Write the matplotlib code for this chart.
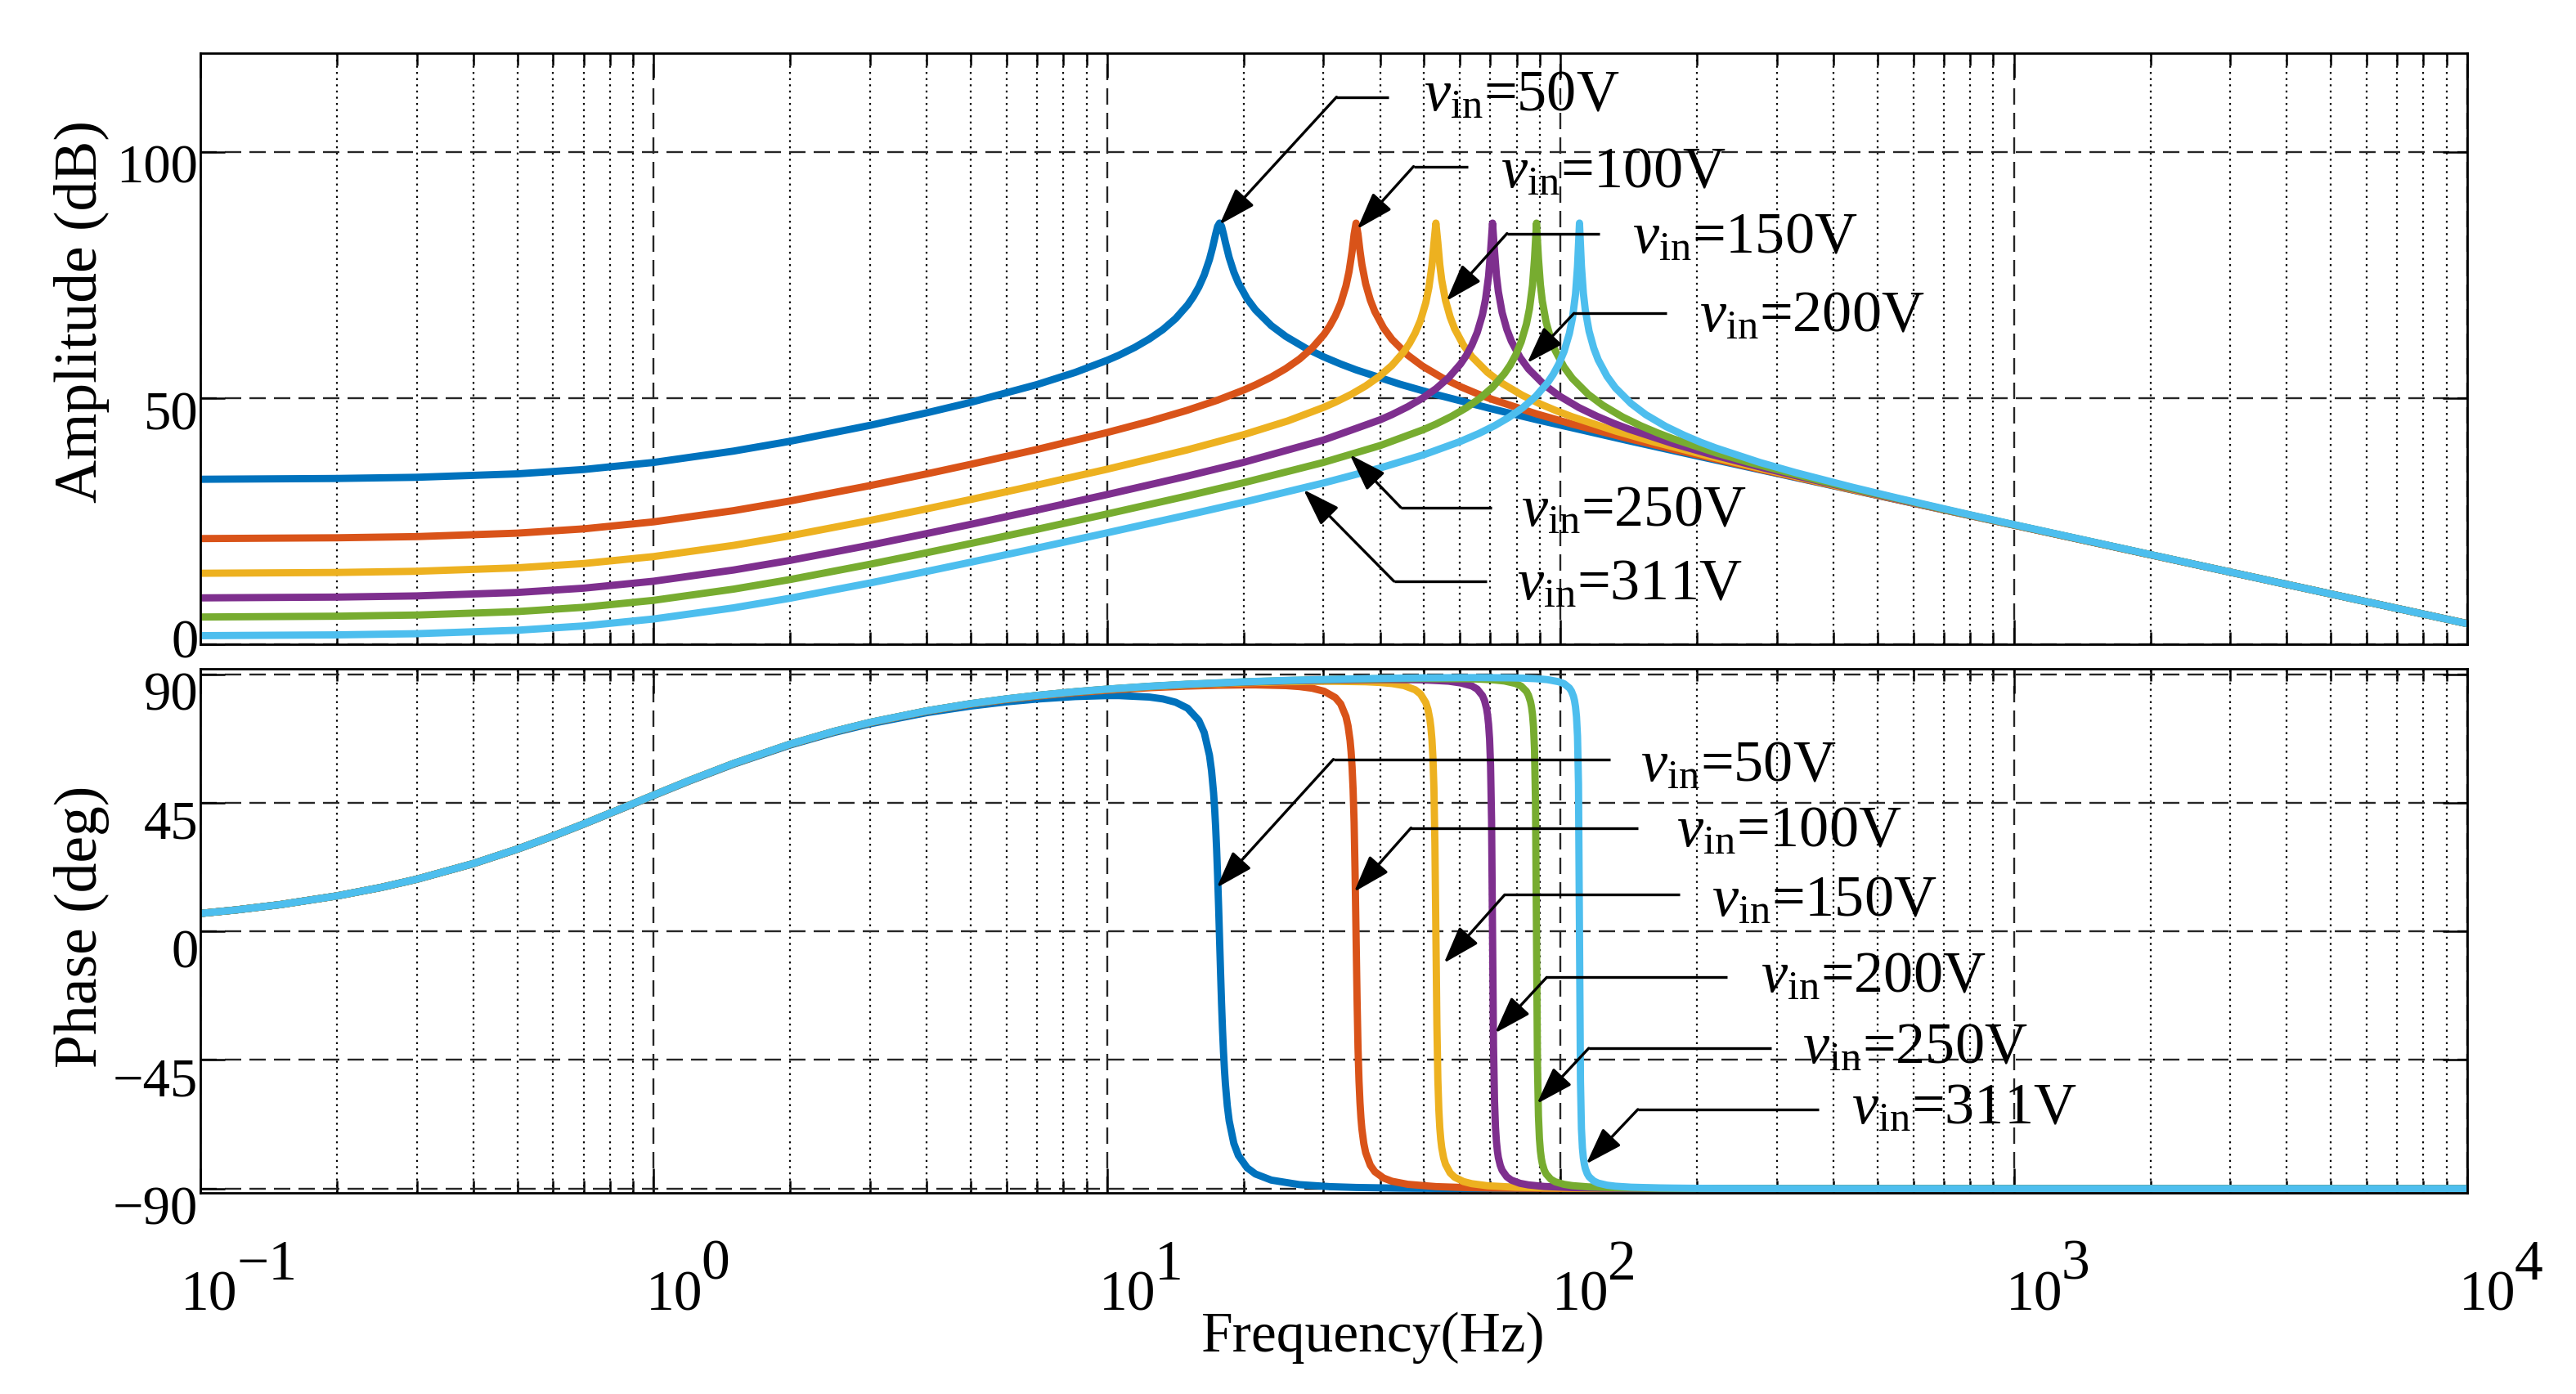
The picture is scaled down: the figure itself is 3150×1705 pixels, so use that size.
"""Bode plot of the converter model for several input voltages (amplitude + phase)."""

import matplotlib

matplotlib.use("Agg")

import matplotlib.pyplot as plt  # noqa: E402
from matplotlib.ticker import FixedLocator, LogLocator, NullFormatter  # noqa: E402
from matplotlib.transforms import ScaledTranslation  # noqa: E402

plt.rcParams.update(
    {
        "font.family": ["Liberation Serif", "DejaVu Serif"],
        "mathtext.fontset": "custom",
        "mathtext.rm": "Liberation Serif",
        "mathtext.it": "Liberation Serif:italic",
        "axes.unicode_minus": True,
        "lines.scale_dashes": False,
    }
)

VIN_LABELS = ["50V", "100V", "150V", "200V", "250V", "311V"]
COLORS = ["#0072BD", "#D95319", "#EDB120", "#7E2F8E", "#77AC30", "#4DBEEE"]

# ---- amplitude (dB) ----
AMP_F_50 = [0.1, 0.2, 0.3, 0.5, 0.7, 1, 1.5, 2, 3, 4, 5, 7, 8.5, 10, 10.62, 11.505,
            12.39, 13.275, 14.16, 15.045, 15.4875, 15.93, 16.3725, 16.815, 17.0805,
            17.346, 17.523, 17.7, 17.877, 18.054, 18.231, 18.585, 19.0275, 19.47,
            20.355, 21.24, 23.01, 24.78, 27.435, 30.09, 32.745, 35.4, 44.25, 53.1,
            70.8, 88.5, 140, 200, 500, 1000, 3000, 10000]
AMP_DB_50 = [33.50, 33.66, 33.90, 34.60, 35.48, 36.92, 39.22, 41.22, 44.45, 46.99,
             49.11, 52.72, 55.19, 57.65, 58.69, 60.27, 61.99, 63.90, 66.13, 68.87,
             70.55, 72.53, 74.98, 78.14, 80.52, 83.23, 84.82, 85.51, 84.84, 83.29,
             81.56, 78.48, 75.56, 73.35, 70.15, 67.88, 64.70, 62.49, 60.09, 58.31,
             56.89, 55.71, 52.79, 50.71, 47.75, 45.61, 41.41, 38.24, 30.22, 24.19,
             14.65, 4.19]

AMP_F_100 = [0.1, 0.2, 0.3, 0.5, 0.7, 1, 1.5, 2, 3, 4, 5, 7, 10, 12.5, 15, 17.5, 20,
             21.24, 23.01, 24.78, 26.55, 28.32, 30.09, 30.975, 31.86, 32.745, 33.63,
             34.161, 34.69, 35.05, 35.4, 35.75, 36.11, 36.462, 37.17, 38.055, 38.94,
             40.71, 42.48, 46.02, 49.56, 54.87, 60.18, 65.49, 70.8, 88.5, 106.2,
             141.6, 177, 280, 500, 1000, 3000, 10000]
AMP_DB_100 = [21.46, 21.62, 21.86, 22.56, 23.43, 24.86, 27.13, 29.10, 32.22, 34.60,
              36.53, 39.55, 42.99, 45.35, 47.49, 49.54, 51.60, 52.66, 54.24, 55.97,
              57.89, 60.14, 62.91, 64.62, 66.67, 69.24, 72.75, 75.68, 79.75, 83.24,
              85.50, 83.27, 79.87, 77.10, 73.15, 69.88, 67.53, 64.22, 61.90, 58.70,
              56.49, 54.08, 52.29, 50.87, 49.69, 46.77, 44.69, 41.73, 39.59, 35.39,
              30.25, 24.20, 14.65, 4.19]

AMP_F_150 = [0.1, 0.2, 0.3, 0.5, 0.7, 1, 1.5, 2, 3, 4, 5, 7, 10, 15, 20, 25, 30,
             31.86, 34.515, 37.17, 39.825, 42.48, 45.135, 46.4625, 47.79, 49.1175,
             50.45, 51.2415, 52.04, 52.57, 53.1, 53.63, 54.16, 54.693, 55.76, 57.0825,
             58.41, 61.065, 63.72, 69.03, 74.34, 82.305, 90.27, 98.235, 106.2, 132.75,
             159.3, 212.4, 265.5, 420, 1000, 3000, 10000]
AMP_DB_150 = [14.42, 14.58, 14.82, 15.52, 16.39, 17.81, 20.08, 22.04, 25.14, 27.50,
              29.39, 32.32, 35.54, 39.45, 42.55, 45.33, 48.08, 49.14, 50.72, 52.44,
              54.37, 56.62, 59.40, 61.12, 63.18, 65.78, 69.36, 72.42, 76.92, 81.45,
              85.50, 81.51, 77.06, 73.94, 69.79, 66.43, 64.04, 60.73, 58.40, 55.19,
              52.97, 50.56, 48.77, 47.35, 46.17, 43.25, 41.17, 38.21, 36.07, 31.87,
              24.21, 14.65, 4.19]

AMP_F_200 = [0.1, 0.2, 0.3, 0.5, 0.7, 1, 1.5, 2, 3, 4, 5, 7, 10, 15, 20, 30, 40, 42.48,
             46.02, 49.56, 53.1, 56.64, 60.18, 61.95, 63.72, 65.49, 67.26, 68.322,
             69.38, 70.09, 70.8, 71.51, 72.22, 72.924, 74.34, 76.11, 77.88, 81.42,
             84.96, 92.04, 99.12, 109.74, 120.4, 130.98, 141.6, 177, 212.4, 283.2, 354,
             560, 1000, 3000, 10000]
AMP_DB_200 = [9.42, 9.58, 9.82, 10.52, 11.39, 12.81, 15.08, 17.04, 20.13, 22.48,
              24.35, 27.25, 30.40, 34.13, 36.94, 41.46, 45.57, 46.63, 48.22, 49.94,
              51.87, 54.12, 56.91, 58.62, 60.69, 63.30, 66.91, 70.01, 74.69, 79.77,
              85.50, 79.84, 74.84, 71.58, 67.33, 63.95, 61.56, 58.23, 55.90, 52.69,
              50.47, 48.06, 46.27, 44.85, 43.67, 40.75, 38.67, 35.71, 33.57, 29.37,
              24.23, 14.65, 4.19]

AMP_F_250 = [0.1, 0.2, 0.3, 0.5, 0.7, 1, 1.5, 2, 3, 4, 5, 7, 10, 15, 20, 30, 40, 50,
             53.1, 57.525, 61.95, 66.375, 70.8, 75.225, 77.4375, 79.65, 81.8625, 84.08,
             85.4025, 86.73, 87.62, 88.5, 89.39, 90.27, 91.155, 92.93, 95.1375, 97.35,
             101.775, 106.2, 115.05, 123.9, 137.175, 150.5, 163.725, 177, 221.25,
             265.5, 354, 442.5, 700, 1000, 3000, 10000]
AMP_DB_250 = [5.54, 5.70, 5.94, 6.64, 7.51, 8.93, 11.20, 13.15, 16.25, 18.59, 20.46,
              23.34, 26.46, 30.10, 32.80, 36.92, 40.34, 43.63, 44.69, 46.28, 48.00,
              49.93, 52.18, 54.97, 56.68, 58.75, 61.37, 64.98, 68.11, 72.87, 78.27,
              85.50, 78.35, 73.04, 69.70, 65.41, 62.02, 59.63, 56.29, 53.96, 50.75,
              48.53, 46.12, 44.33, 42.91, 41.73, 38.81, 36.73, 33.77, 31.63, 27.43,
              24.26, 14.66, 4.19]

AMP_F_311 = [0.1, 0.2, 0.3, 0.5, 0.7, 1, 1.5, 2, 3, 4, 5, 7, 10, 15, 20, 30, 40, 50,
             60, 66.06, 71.565, 77.07, 82.575, 88.08, 93.585, 96.3375, 99.09, 101.8425,
             104.6, 106.2465, 107.9, 109.0, 110.1, 111.2, 112.3, 113.403, 115.6,
             118.3575, 121.1, 126.615, 132.1, 143.13, 154.1, 170.655, 187.2, 203.685,
             220.2, 275.25, 330.3, 440.4, 550.5, 800, 1000, 3000, 10000]
AMP_DB_311 = [1.75, 1.91, 2.15, 2.85, 3.72, 5.14, 7.40, 9.36, 12.45, 14.79, 16.66,
              19.53, 22.63, 26.22, 28.84, 32.74, 35.79, 38.50, 41.14, 42.79, 44.38,
              46.11, 48.04, 50.29, 53.07, 54.79, 56.86, 59.48, 63.11, 66.25, 71.07,
              76.68, 85.51, 76.75, 71.24, 67.85, 63.54, 60.13, 57.73, 54.40, 52.07,
              48.86, 46.63, 44.22, 42.44, 41.01, 39.84, 36.91, 34.84, 31.88, 29.74,
              26.29, 24.30, 14.66, 4.19]

# ---- phase (deg) ----
PH_F_50 = [0.1, 0.12, 0.15, 0.2, 0.25, 0.3, 0.4, 0.5, 0.6, 0.7, 0.85, 1, 1.2, 1.5, 2,
           2.5, 3, 4, 5, 6, 7, 8.5, 10, 10.62, 12.39, 13.275, 14.16, 15.045, 15.93,
           16.3725, 16.815, 16.992, 17.169, 17.2575, 17.346, 17.4345, 17.523, 17.612,
           17.7, 17.789, 17.877, 17.9655, 18.054, 18.1425, 18.231, 18.408, 18.585,
           19.0275, 19.47, 20.355, 21.24, 23.01, 26.55, 30.975, 35.4, 44.25, 53.1,
           88.5, 177, 1000, 10000]
PH_DEG_50 = [6.25, 7.49, 9.35, 12.39, 15.32, 18.20, 23.67, 28.71, 33.31, 37.46, 42.92,
             47.54, 52.64, 58.51, 65.21, 69.60, 72.64, 76.52, 78.83, 80.31, 81.28,
             82.15, 82.49, 82.49, 81.98, 81.32, 80.16, 78.07, 73.77, 69.52, 61.56,
             56.17, 48.39, 43.16, 36.74, 28.89, 19.50, 8.69, -2.94, -14.53, -25.18,
             -34.40, -42.07, -48.33, -53.44, -61.06, -66.33, -74.18, -78.40, -82.73,
             -84.90, -87.03, -88.62, -89.32, -89.61, -89.86, -89.94, -90.0, -90.0,
             -90.0, -90.0]

PH_F_100 = [0.1, 0.12, 0.15, 0.2, 0.25, 0.3, 0.4, 0.5, 0.6, 0.7, 0.85, 1, 1.2, 1.5, 2,
            2.5, 3, 4, 5, 6, 7, 8.5, 10, 12.5, 15, 17.5, 20, 21.24, 24.78, 26.55, 28.32,
            30.09, 31.86, 32.745, 33.63, 33.984, 34.34, 34.515, 34.69, 34.869, 35.05,
            35.22, 35.4, 35.58, 35.75, 35.931, 36.11, 36.285, 36.46, 36.816, 37.17,
            38.055, 38.94, 40.71, 42.48, 46.02, 53.1, 61.95, 70.8, 106.2, 177, 1000,
            10000]
PH_DEG_100 = [6.27, 7.51, 9.36, 12.40, 15.35, 18.24, 23.71, 28.77, 33.38, 37.54, 43.02,
              47.66, 52.78, 58.69, 65.45, 69.90, 73.01, 77.02, 79.49, 81.14, 82.30,
              83.54, 84.37, 85.28, 85.81, 86.11, 86.23, 86.24, 85.99, 85.65, 85.07,
              84.01, 81.79, 79.56, 75.13, 71.90, 66.74, 62.86, 57.48, 49.70, 38.10,
              20.94, -1.47, -23.78, -40.77, -52.24, -59.91, -65.24, -69.09, -74.21,
              -77.42, -81.84, -84.09, -86.33, -87.44, -88.51, -89.31, -89.66, -89.81,
              -89.97, -90.0, -90.0, -90.0]

PH_F_150 = [0.1, 0.12, 0.15, 0.2, 0.25, 0.3, 0.4, 0.5, 0.6, 0.7, 0.85, 1, 1.2, 1.5, 2,
            2.5, 3, 4, 5, 6, 7, 8.5, 10, 12.5, 15, 20, 25, 30, 31.86, 37.17, 39.825,
            42.48, 45.135, 47.79, 49.1175, 50.45, 50.976, 51.51, 51.7725, 52.04,
            52.3035, 52.57, 52.83, 53.1, 53.37, 53.63, 53.8965, 54.16, 54.4275, 54.69,
            55.224, 55.76, 57.0825, 58.41, 61.065, 63.72, 69.03, 79.65, 92.925, 106.2,
            159.3, 1000, 10000]
PH_DEG_150 = [6.27, 7.51, 9.36, 12.40, 15.36, 18.25, 23.72, 28.78, 33.39, 37.56, 43.04,
              47.68, 52.81, 58.72, 65.49, 69.96, 73.08, 77.11, 79.60, 81.27, 82.46,
              83.74, 84.62, 85.61, 86.25, 86.98, 87.36, 87.49, 87.49, 87.33, 87.10,
              86.71, 86.00, 84.52, 83.01, 80.00, 77.76, 74.10, 71.25, 67.15, 60.81,
              50.13, 30.76, -0.98, -32.60, -51.83, -62.42, -68.74, -72.81, -75.65,
              -79.27, -81.51, -84.52, -86.04, -87.54, -88.29, -89.01, -89.54, -89.77,
              -89.87, -89.98, -90.0, -90.0]

PH_F_200 = [0.1, 0.12, 0.15, 0.2, 0.25, 0.3, 0.4, 0.5, 0.6, 0.7, 0.85, 1, 1.2, 1.5, 2,
            2.5, 3, 4, 5, 6, 7, 8.5, 10, 12.5, 15, 20, 25, 30, 35, 40, 42.48, 49.56,
            53.1, 56.64, 60.18, 63.72, 65.49, 67.26, 67.968, 68.68, 69.03, 69.38,
            69.738, 70.09, 70.45, 70.8, 71.15, 71.51, 71.862, 72.22, 72.57, 72.92,
            73.632, 74.34, 76.11, 77.88, 81.42, 84.96, 92.04, 106.2, 123.9, 141.6,
            212.4, 1000, 10000]
PH_DEG_200 = [6.27, 7.51, 9.36, 12.40, 15.36, 18.25, 23.73, 28.79, 33.40, 37.57, 43.04,
              47.69, 52.82, 58.74, 65.51, 69.98, 73.10, 77.14, 79.64, 81.32, 82.52,
              83.81, 84.70, 85.71, 86.38, 87.18, 87.64, 87.90, 88.06, 88.12, 88.12,
              88.00, 87.77, 87.53, 86.93, 85.88, 84.75, 82.47, 80.77, 77.96, 75.75,
              72.50, 67.34, 58.09, 38.76, -0.74, -40.14, -59.35, -68.54, -73.70,
              -76.91, -79.14, -81.91, -83.60, -85.88, -87.03, -88.16, -88.71, -89.26,
              -89.65, -89.83, -89.91, -89.99, -90.0, -90.0]

PH_F_250 = [0.1, 0.12, 0.15, 0.2, 0.25, 0.3, 0.4, 0.5, 0.6, 0.7, 0.85, 1, 1.2, 1.5, 2,
            2.5, 3, 4, 5, 6, 7, 8.5, 10, 12.5, 15, 20, 25, 30, 35, 40, 45, 50, 53.1,
            61.95, 66.375, 70.8, 75.225, 79.65, 81.8625, 84.08, 84.96, 85.85, 86.2875,
            86.73, 87.1725, 87.62, 88.06, 88.5, 88.94, 89.39, 89.8275, 90.27, 90.7125,
            91.16, 92.04, 92.93, 95.1375, 97.35, 101.775, 106.2, 115.05, 132.8,
            154.875, 177, 265.5, 1000, 10000]
PH_DEG_250 = [6.27, 7.51, 9.36, 12.40, 15.36, 18.25, 23.73, 28.79, 33.40, 37.57, 43.05,
              47.70, 52.83, 58.75, 65.52, 69.98, 73.11, 77.16, 79.66, 81.34, 82.55,
              83.84, 84.74, 85.76, 86.44, 87.26, 87.75, 88.05, 88.25, 88.38, 88.46,
              88.50, 88.44, 88.40, 88.26, 88.02, 87.60, 86.71, 85.80, 83.97, 82.60,
              80.33, 78.54, 75.86, 71.57, 63.59, 45.29, -0.59, -46.33, -64.55, -72.50,
              -76.80, -79.45, -81.26, -83.51, -84.87, -86.71, -87.63, -88.52, -88.97,
              -89.40, -89.72, -89.87, -89.92, -89.99, -90.0, -90.0]

PH_F_311 = [0.1, 0.12, 0.15, 0.2, 0.25, 0.3, 0.4, 0.5, 0.6, 0.7, 0.85, 1, 1.2, 1.5, 2,
            2.5, 3, 4, 5, 6, 7, 8.5, 10, 12.5, 15, 20, 25, 30, 35, 40, 45, 50, 60,
            66.06, 77.07, 82.575, 88.08, 93.585, 99.09, 101.8425, 104.6, 105.696,
            106.8, 107.3475, 107.9, 108.4485, 109.0, 109.55, 110.1, 110.65, 111.2,
            111.7515, 112.3, 112.8525, 113.4, 114.504, 115.6, 118.3575, 121.1,
            126.615, 132.1, 143.13, 165.2, 192.675, 220.2, 330.3, 1000, 10000]
PH_DEG_311 = [6.27, 7.51, 9.36, 12.40, 15.36, 18.25, 23.73, 28.79, 33.40, 37.57, 43.05,
              47.70, 52.83, 58.75, 65.53, 69.99, 73.13, 77.16, 79.68, 81.36, 82.57,
              83.86, 84.76, 85.79, 86.48, 87.31, 87.81, 88.13, 88.35, 88.51, 88.62,
              88.70, 88.78, 88.79, 88.71, 88.60, 88.42, 88.07, 87.35, 86.63, 85.15,
              84.05, 82.20, 80.74, 78.58, 75.03, 68.28, 51.60, -0.49, -52.42, -69.05,
              -75.77, -79.32, -81.48, -82.96, -84.78, -85.88, -87.35, -88.09, -88.81,
              -89.17, -89.52, -89.78, -89.89, -89.94, -89.99, -90.0, -90.0]

AMP_SERIES = [(AMP_F_50, AMP_DB_50), (AMP_F_100, AMP_DB_100), (AMP_F_150, AMP_DB_150),
              (AMP_F_200, AMP_DB_200), (AMP_F_250, AMP_DB_250), (AMP_F_311, AMP_DB_311)]
PH_SERIES = [(PH_F_50, PH_DEG_50), (PH_F_100, PH_DEG_100), (PH_F_150, PH_DEG_150),
             (PH_F_200, PH_DEG_200), (PH_F_250, PH_DEG_250), (PH_F_311, PH_DEG_311)]

AMP_TICKS = [0, 50, 100]
PH_TICKS = [-90, -45, 0, 45, 90]
DECADES = [-1, 0, 1, 2, 3, 4]

# ---- callouts (data coordinates): arrow tip, elbow, end of leader, label anchor ----
AMP_TIPS = [(17.7, 85.2), (35.6, 84.3), (56.0, 69.7), (84.4, 57.1), (34.3, 38.5), (27.1, 31.4)]
AMP_ELBOWS = [(32.06, 111.1), (47.4, 97.0), (76.2, 83.4), (107.1, 67.2), (44.4, 27.8), (42.9, 12.8)]
AMP_LEADER_END = [41.7, 62.4, 122.1, 171.3, 70.6, 68.7]
AMP_LABEL_POS = [(49.9, 108.6), (73.9, 92.9), (143.8, 79.6), (202.2, 63.8), (81.8, 24.3), (80.1, 9.3)]

PH_TIPS = [(17.45, 15.3), (35.05, 13.8), (55.3, -11.1), (71.7, -35.6), (88.7, -60.3), (113.9, -81.4)]
PH_ELBOWS = [(31.55, 60.2), (46.8, 36.2), (75.3, 12.8), (93.2, -16.1), (115.4, -40.9), (148.1, -62.3)]
PH_LEADER_END = [128.9, 147.9, 183.3, 233.5, 291.8, 371.2]
PH_LABEL_POS = [(149.8, 52.9), (180.3, 30.1), (215.0, 5.7), (275.9, -20.9), (341.6, -45.7), (438.5, -66.8)]

DPI = 200
PX = 72 / DPI  # one output pixel in points


def style_axes(ax):
    ax.set_xscale("log")
    ax.set_xlim(0.1, 1e4)
    ax.xaxis.set_major_locator(FixedLocator([10.0**k for k in DECADES]))
    ax.xaxis.set_minor_locator(LogLocator(base=10, subs=range(2, 10), numticks=30))
    ax.xaxis.set_major_formatter(NullFormatter())
    ax.xaxis.set_minor_formatter(NullFormatter())
    ax.tick_params(which="both", direction="in", top=True, right=True, width=0.9,
                   labelsize=24, pad=1)
    ax.tick_params(which="major", length=30 * PX)
    ax.tick_params(which="minor", length=15 * PX)
    # MATLAB-like grid: dashed majors, sparse square dots for the minors
    ax.grid(True, which="major", color="#262626", linewidth=0.85,
            linestyle=(0, (7.2, 3.6)))
    ax.grid(True, which="minor", axis="x", color="black", linewidth=0.8,
            linestyle=(0, (0.83, 1.9)), dash_capstyle="butt")
    for spine in ax.spines.values():
        spine.set_linewidth(1.0)


def shift_ylabels(fig, ax, shifts):
    for label, dy in zip(ax.get_yticklabels(), shifts):
        label.set_transform(label.get_transform()
                            + ScaledTranslation(0, dy / 72, fig.dpi_scale_trans))


def add_callouts(ax, tips, elbows, ends, positions):
    for tip, elbow, end_x, pos, text in zip(tips, elbows, ends, positions, VIN_LABELS):
        ax.plot([elbow[0], end_x], [elbow[1], elbow[1]], color="black", lw=1.2,
                solid_capstyle="butt", zorder=5)
        ax.annotate("", xy=tip, xytext=elbow, zorder=5,
                    arrowprops=dict(arrowstyle="-|>,head_length=1.4,head_width=0.47",
                                    color="black", lw=1.2, shrinkA=0, shrinkB=0,
                                    mutation_scale=10))
        ax.text(pos[0], pos[1], r"$v_{\mathrm{in}}$=" + text, fontsize=26,
                ha="left", va="baseline", zorder=6)


def main():
    fig = plt.figure(figsize=(3150 / DPI, 1706 / DPI), dpi=DPI)
    ax_amp = fig.add_axes([0.0778, 0.5375, 0.8800, 0.4238])
    ax_ph = fig.add_axes([0.0778, 0.1442, 0.8800, 0.3760])

    for (freq, amp), color in zip(AMP_SERIES, COLORS):
        ax_amp.plot(freq, amp, color=color, lw=3.2, solid_joinstyle="round")
    for (freq, phase), color in zip(PH_SERIES, COLORS):
        ax_ph.plot(freq, phase, color=color, lw=3.2, solid_joinstyle="round")

    for ax in (ax_amp, ax_ph):
        style_axes(ax)

    ax_amp.set_ylim(0, 120)
    ax_amp.set_yticks(AMP_TICKS)
    ax_ph.set_ylim(-91.5, 92)
    ax_ph.set_yticks(PH_TICKS)
    shift_ylabels(fig, ax_amp, [3, -5, -5])
    shift_ylabels(fig, ax_ph, [-7, -7, -7, -7, -7])

    ax_amp.set_ylabel("Amplitude (dB)", fontsize=26.5)
    ax_amp.yaxis.set_label_coords(-0.040, 0.565)
    ax_ph.set_ylabel("Phase (deg)", fontsize=26.5)
    ax_ph.yaxis.set_label_coords(-0.040, 0.51)
    ax_ph.set_xlabel("Frequency(Hz)", fontsize=25)
    ax_ph.xaxis.set_label_coords(0.5175, -0.225)

    # decade labels 10^k with a full-size exponent
    for k in DECADES:
        base_dx = -24 if k < 0 else -10
        ax_ph.annotate("10", xy=(10.0**k, 0), xycoords=("data", "axes fraction"),
                       xytext=(base_dx * PX, -143 * PX), textcoords="offset points",
                       ha="left", va="baseline", fontsize=25, annotation_clip=False)
        ax_ph.annotate(str(k).replace("-", "\u2212"), xy=(10.0**k, 0),
                       xycoords=("data", "axes fraction"),
                       xytext=((base_dx + 68) * PX, -105 * PX),
                       textcoords="offset points", ha="left", va="baseline",
                       fontsize=25, annotation_clip=False)

    add_callouts(ax_amp, AMP_TIPS, AMP_ELBOWS, AMP_LEADER_END, AMP_LABEL_POS)
    add_callouts(ax_ph, PH_TIPS, PH_ELBOWS, PH_LEADER_END, PH_LABEL_POS)

    fig.savefig("out.png", dpi=DPI, facecolor="white")
    plt.close(fig)


if __name__ == "__main__":
    main()
